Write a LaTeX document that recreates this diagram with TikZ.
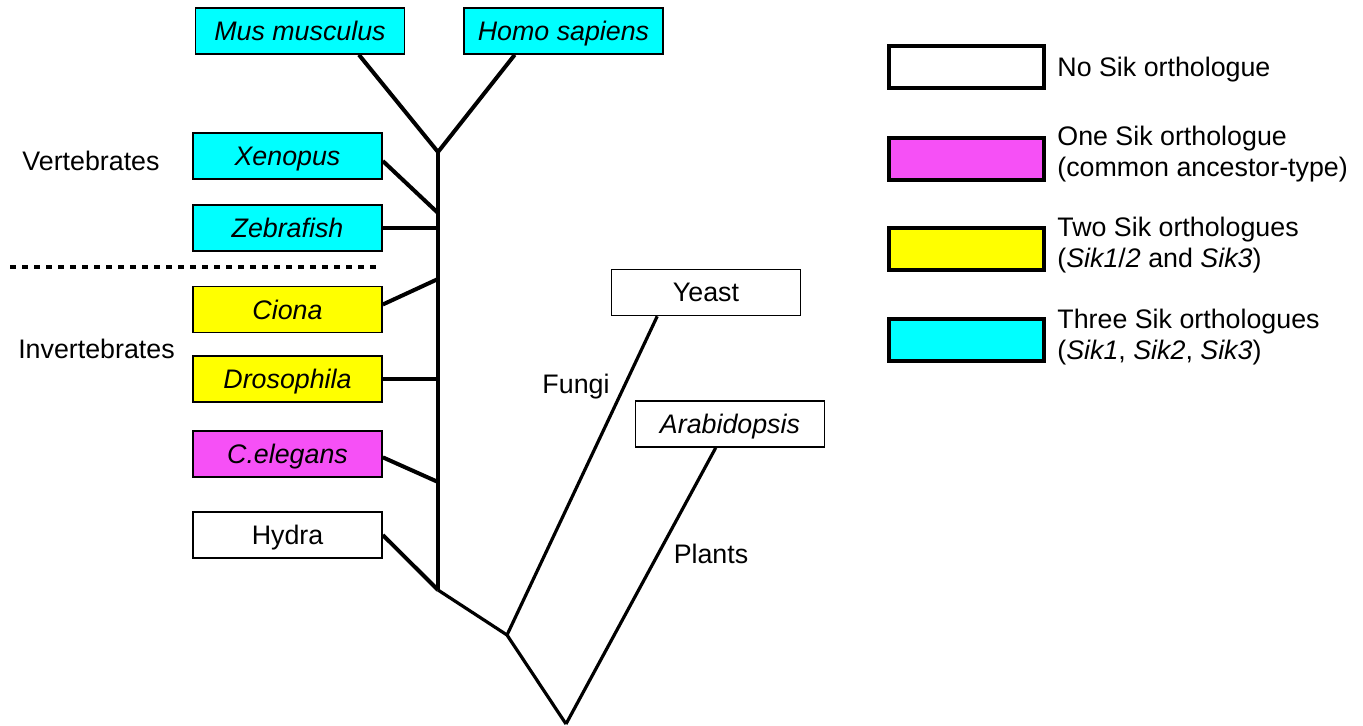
\documentclass[tikz,border=0pt]{standalone}
\usepackage{fontspec}
\setmainfont{Liberation Sans}

\definecolor{sikthree}{RGB}{0,255,255}
\definecolor{siktwo}{RGB}{255,255,0}
\definecolor{sikone}{RGB}{246,80,246}

\tikzset{
  taxon/.style={draw, line width=0.8pt, minimum width=94.5pt, minimum height=23pt, inner sep=0pt, text depth=0pt},
  legbox/.style={draw, line width=2pt, minimum width=77.5pt, minimum height=21pt, inner sep=0pt},
  legtext/.style={anchor=west, inner sep=0pt, align=left},
  branch/.style={line width=2pt},
  stem/.style={line width=1.6pt},
  sep/.style={line width=2.4pt, dash pattern=on 3pt off 3pt}
}

\begin{document}
\begin{tikzpicture}[x=0.5pt, y=-0.5pt, every node/.style={font=\fontsize{13.4pt}{15.5pt}\selectfont}]
\useasboundingbox (0,0) rectangle (1363,726);

% Taxa
\node[taxon, fill=sikthree, minimum width=104.5pt] (msc) at (300,31) {\itshape Mus musculus};
\node[taxon, fill=sikthree, minimum width=99.5pt] (hsp) at (563.5,31) {\itshape Homo sapiens};
\node[taxon, fill=sikthree] (xen) at (287.5,156) {\itshape Xenopus};
\node[taxon, fill=sikthree] (zeb) at (287.5,228) {\itshape Zebrafish};
\node[taxon, fill=siktwo] (cio) at (287.5,309.5) {\itshape Ciona};
\node[taxon, fill=siktwo] (dro) at (287.5,379) {\itshape Drosophila};
\node[taxon, fill=sikone] (cel) at (287.5,454) {\itshape C.elegans};
\node[taxon] (hyd) at (287.5,535) {Hydra};
\node[taxon] (yst) at (706,292.5) {Yeast};
\node[taxon] (ara) at (730,424) {\itshape Arabidopsis};

% Group labels
\node (vert) at (91,161) {Vertebrates};
\node (invert) at (96.5,349) {Invertebrates};
\node (fungi) at (576,387) {Fungi};
\node (plants) at (711,554) {Plants};
\draw[sep] (10,267) -- (378,267);

% Branch points
\coordinate (jmam) at (438,152);
\coordinate (jxen) at (438,213);
\coordinate (jzeb) at (438,228);
\coordinate (jcio) at (438,279);
\coordinate (jdro) at (438,379);
\coordinate (jcel) at (438,482);
\coordinate (jmet) at (438,590);
\coordinate (jfun) at (507,635);
\coordinate (root) at (566,724);

% Tree
\draw[branch] (msc.-22) -- (jmam) -- (hsp.206);
\draw[branch] (jmam) -- (jmet);
\draw[branch] (xen.-3) -- (jxen);
\draw[branch] (zeb.east) -- (jzeb);
\draw[branch] (cio.3) -- (jcio);
\draw[branch] (dro.east) -- (jdro);
\draw[branch] (cel.-2) -- (jcel);
\draw[branch] (hyd.east) -- (jmet);
\draw[stem] (jmet) -- (jfun) -- (root);
\draw[stem] (jfun) -- (yst.206);
\draw[stem] (root) -- (ara.239);

% Legend
\node[legbox] (lnone) at (966.5,67) {};
\node[legbox, fill=sikone] (lone) at (966.5,159) {};
\node[legbox, fill=siktwo] (ltwo) at (966.5,249.5) {};
\node[legbox, fill=sikthree] (lthree) at (966.5,340) {};
\node[legtext] (tnone) at (1057,70) {No Sik orthologue};
\node[legtext] (tone) at (1057,154) {One Sik orthologue\\(common ancestor-type)};
\node[legtext] (ttwo) at (1057,245.5) {Two Sik orthologues\\(\textit{Sik1}/\textit{2} and \textit{Sik3})};
\node[legtext] (tthree) at (1057,337) {Three Sik orthologues\\(\textit{Sik1}, \textit{Sik2}, \textit{Sik3})};

\end{tikzpicture}
\end{document}
